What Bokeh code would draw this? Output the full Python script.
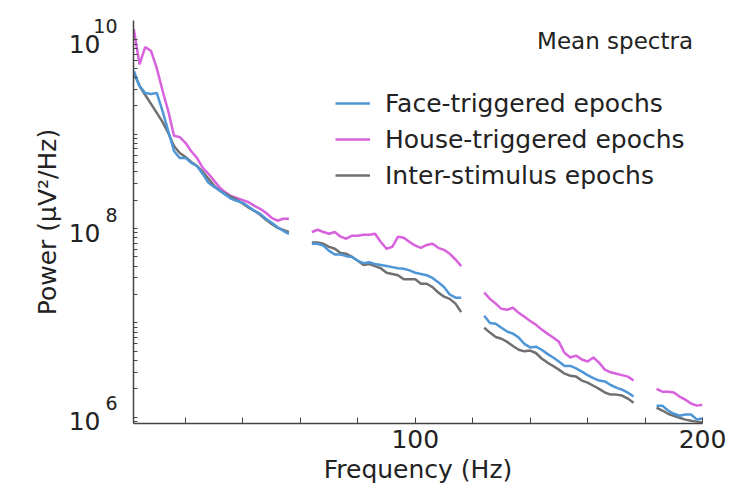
import math
from bokeh.plotting import figure
from bokeh.models import (Range1d, FixedTicker, CustomJSTickFormatter, Legend,
                          LegendItem, Label, LogAxis)
from bokeh.embed import file_html
from bokeh.resources import INLINE

nan = float("nan")

# Frequency samples (Hz); NaN rows mark the notch gaps at 60, 120, 180 Hz
freq = (list(range(2, 57, 2)) + [60] + list(range(64, 117, 2)) + [120]
        + list(range(124, 177, 2)) + [180] + list(range(184, 201, 2)))

face = [4.67e9, 3.24e9, 2.73e9, 2.66e9, 2.73e9, 1.76e9, 1.08e9, 6.64e8, 5.6e8, 5.6e8,
        4.96e8, 4.6e8, 3.79e8, 3.05e8, 2.76e8, 2.51e8, 2.27e8, 2.06e8, 1.96e8, 1.87e8,
        1.70e8, 1.54e8, 1.43e8, 1.27e8, 1.15e8, 1.04e8, 9.46e7, 8.79e7,
        nan,
        6.9e7, 6.9e7, 6.6e7, 5.8e7, 5.3e7, 5.3e7, 5.1e7, 5.0e7, 4.55e7, 4.3e7,
        4.4e7, 4.2e7, 4.1e7, 4.0e7, 3.9e7, 3.8e7, 3.75e7, 3.6e7, 3.4e7, 3.3e7,
        3.2e7, 3.0e7, 2.7e7, 2.4e7, 2.0e7, 1.85e7, 1.85e7,
        nan,
        1.19e7, 1.0e7, 9.8e6, 8.9e6, 8.1e6, 7.7e6, 7.0e6, 6.0e6, 5.5e6, 5.6e6,
        5.2e6, 4.7e6, 4.3e6, 3.9e6, 3.5e6, 3.5e6, 3.3e6, 3.05e6, 2.8e6, 2.6e6,
        2.45e6, 2.4e6, 2.2e6, 2.06e6, 1.96e6, 1.83e6, 1.66e6,
        nan,
        1.33e6, 1.33e6, 1.18e6, 1.09e6, 1.04e6, 1.07e6, 1.07e6, 9.5e5, 9.7e5]

house = [1.30e10, 5.5e9, 8.4e9, 7.6e9, 5.0e9, 2.9e9, 1.76e9, 9.6e8, 9.3e8, 8.1e8,
         6.6e8, 5.6e8, 4.4e8, 3.8e8, 3.2e8, 2.7e8, 2.4e8, 2.2e8, 2.1e8, 2.0e8,
         1.9e8, 1.74e8, 1.62e8, 1.47e8, 1.30e8, 1.21e8, 1.27e8, 1.27e8,
         nan,
         9.2e7, 9.7e7, 9.2e7, 8.8e7, 9.2e7, 8.2e7, 7.8e7, 8.4e7, 8.4e7, 8.6e7,
         8.6e7, 8.8e7, 7.2e7, 6.1e7, 6.4e7, 8.2e7, 8.0e7, 7.2e7, 6.6e7, 6.25e7,
         6.7e7, 6.9e7, 6.25e7, 5.95e7, 5.4e7, 4.7e7, 4.0e7,
         nan,
         2.1e7, 1.8e7, 1.6e7, 1.41e7, 1.38e7, 1.45e7, 1.28e7, 1.16e7, 1.05e7, 9.6e6,
         8.5e6, 7.7e6, 7.0e6, 6.3e6, 4.8e6, 4.3e6, 4.5e6, 4.1e6, 3.9e6, 4.3e6,
         3.8e6, 3.2e6, 3.0e6, 2.9e6, 2.8e6, 2.7e6, 2.45e6,
         nan,
         2.0e6, 1.87e6, 1.87e6, 1.83e6, 1.66e6, 1.54e6, 1.40e6, 1.33e6, 1.36e6]

inter = [4.44e9, 3.24e9, 2.60e9, 2.09e9, 1.68e9, 1.35e9, 1.03e9, 7.5e8, 6.32e8, 5.74e8,
         5.08e8, 4.6e8, 3.98e8, 3.36e8, 2.83e8, 2.51e8, 2.33e8, 2.16e8, 2.01e8, 1.83e8,
         1.66e8, 1.54e8, 1.40e8, 1.24e8, 1.12e8, 1.02e8, 9.68e7, 9.23e7,
         nan,
         7.1e7, 7.1e7, 6.9e7, 6.4e7, 6.1e7, 5.5e7, 5.4e7, 5.0e7, 4.55e7, 4.1e7,
         4.2e7, 4.0e7, 3.8e7, 3.4e7, 3.3e7, 3.2e7, 2.9e7, 2.9e7, 2.9e7, 2.6e7,
         2.6e7, 2.4e7, 2.1e7, 1.9e7, 1.8e7, 1.6e7, 1.3e7,
         nan,
         8.9e6, 7.9e6, 7.1e6, 6.8e6, 6.3e6, 5.7e6, 5.2e6, 5.0e6, 5.1e6, 4.8e6,
         4.2e6, 3.8e6, 3.5e6, 3.2e6, 2.9e6, 2.76e6, 2.7e6, 2.45e6, 2.33e6, 2.16e6,
         2.0e6, 1.83e6, 1.74e6, 1.74e6, 1.7e6, 1.58e6, 1.43e6,
         nan,
         1.27e6, 1.18e6, 1.09e6, 1.04e6, 9.9e5, 9.45e5, 9.2e5, 9.0e5, 8.8e5]

series_names = ["Face-triggered epochs", "House-triggered epochs", "Inter-stimulus epochs"]
x_ticks = [20, 40, 60, 80, 100, 120, 140, 160, 180, 200]
y_decades = [1e6, 1e7, 1e8, 1e9, 1e10]
y_labelled = [1e6, 1e8, 1e10]          # decades carrying a "10^n" label
y_minor = [m * 10 ** e for e in range(5, 11) for m in range(2, 10)]

EXP_RAISE = 1.406   # exponent drawn ~14 px above the decade tick
BASE_DROP = 0.907   # "10" drawn ~4 px below the decade tick

FONT = "DejaVu Sans"
TXT = "#222222"
AX = "#444444"
C_FACE = "#4f96d6"
C_HOUSE = "#d862dd"
C_INTER = "#707070"

p = figure(frame_width=569, frame_height=403, y_axis_type="log",
           x_range=Range1d(1.9, 200), y_range=Range1d(8.6e5, 1.6e10),
           output_backend="svg", toolbar_location=None,
           min_border_left=133, min_border_right=28, min_border_top=20,
           min_border_bottom=67)
p.outline_line_color = None
p.xgrid.visible = False
p.ygrid.visible = False
p.background_fill_color = "white"
p.border_fill_color = "white"

r_house = p.line(freq, house, line_color=C_HOUSE, line_width=2.5)
r_inter = p.line(freq, inter, line_color=C_INTER, line_width=2.5)
r_face = p.line(freq, face, line_color=C_FACE, line_width=2.5)

# X axis
xa = p.xaxis[0]
xa.ticker = FixedTicker(ticks=x_ticks, minor_ticks=[])
xa.formatter = CustomJSTickFormatter(code="return (tick == 100 || tick == 200) ? String(tick) : '';")
xa.axis_label = "Frequency (Hz)"
xa.major_tick_in = 6
xa.major_tick_out = 0
xa.minor_tick_in = 0
xa.minor_tick_out = 0
xa.major_label_standoff = 6
xa.axis_label_standoff = 4
xa.axis_line_color = AX
xa.axis_line_width = 1.5
xa.major_tick_line_color = AX
xa.major_label_text_font = FONT
xa.major_label_text_font_size = "25px"
xa.major_label_text_color = TXT
xa.axis_label_text_font = FONT
xa.axis_label_text_font_size = "25px"
xa.axis_label_text_font_style = "normal"
xa.axis_label_text_color = TXT

# Inner y axis: axis line, decade + minor ticks, exponent labels
ya = p.yaxis[0]
ya.ticker = FixedTicker(ticks=[v * EXP_RAISE for v in y_labelled],
                        minor_ticks=y_decades + y_minor)
ya.formatter = CustomJSTickFormatter(code="return String(Math.round(Math.log10(tick)));")
ya.major_tick_in = 0
ya.major_tick_out = 0
ya.minor_tick_in = 4
ya.minor_tick_out = 0
ya.major_label_standoff = 16
ya.axis_line_color = AX
ya.axis_line_width = 1.5
ya.minor_tick_line_color = AX
ya.major_label_text_font = FONT
ya.major_label_text_font_size = "19px"
ya.major_label_text_color = TXT

# Outer y axis: the "10" bases and the axis title
yb = LogAxis(ticker=FixedTicker(ticks=[v * BASE_DROP for v in y_labelled], minor_ticks=[]),
             formatter=CustomJSTickFormatter(code="return '10';"))
yb.axis_line_color = None
yb.major_tick_line_color = None
yb.minor_tick_line_color = None
yb.major_tick_in = 0
yb.major_tick_out = 0
yb.minor_tick_in = 0
yb.minor_tick_out = 0
yb.major_label_standoff = -10
yb.major_label_text_font = FONT
yb.major_label_text_font_size = "25px"
yb.major_label_text_color = TXT
yb.axis_label = "Power (\u03bcV\u00b2/Hz)"
yb.axis_label_standoff = 4
yb.axis_label_text_font = FONT
yb.axis_label_text_font_size = "25px"
yb.axis_label_text_font_style = "normal"
yb.axis_label_text_color = TXT
p.add_layout(yb, "left")

legend = Legend(items=[LegendItem(label=series_names[0], renderers=[r_face]),
                       LegendItem(label=series_names[1], renderers=[r_house]),
                       LegendItem(label=series_names[2], renderers=[r_inter])],
                location=(202, 233), orientation="vertical",
                label_text_font=FONT, label_text_font_size="25px",
                label_text_color=TXT, glyph_width=35, glyph_height=30,
                label_height=30, label_standoff=15, spacing=6, padding=0,
                margin=0, border_line_color=None, background_fill_alpha=0)
p.add_layout(legend)

p.add_layout(Label(x=196.7, y=9.7e9, text="Mean spectra", text_align="right",
                   text_baseline="middle", text_font=FONT,
                   text_font_size="23px", text_color=TXT))

html = file_html(p, INLINE)
open("out.html", "w").write(html)
